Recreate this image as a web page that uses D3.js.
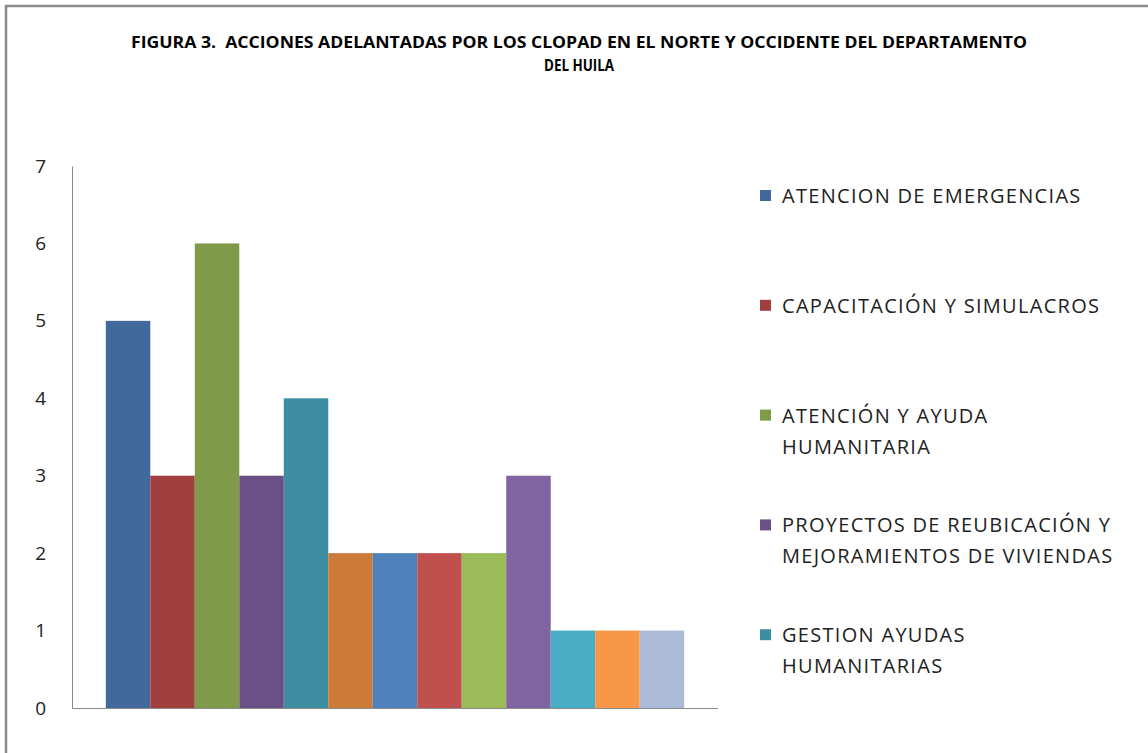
<!DOCTYPE html>
<html>
<head>
    <meta charset="utf-8">
    <title>Figura 3</title>
    <script src="https://d3js.org/d3.v7.min.js"></script>
    <style>
        html, body {
            margin: 0;
            background: #fff;
            overflow: hidden;
        }
    </style>
</head>
<body>
    <svg id="svg"></svg>
    <script>
        // values per bar, left to right
        const values = [5, 3, 6, 3, 4, 2, 2, 2, 2, 3, 1, 1, 1];
        const barColors = ["#41699b", "#a0403e", "#7f9b49", "#6a5085", "#3d8ea3", "#cb7a38",
            "#4f81bd", "#c0504d", "#9bbb59", "#8064a2", "#4bacc6", "#f79646", "#aabad7"];
        const legendLabels = [
            ["ATENCION DE EMERGENCIAS"],
            ["CAPACITACIÓN Y SIMULACROS"],
            ["ATENCIÓN Y AYUDA", "HUMANITARIA"],
            ["PROYECTOS DE REUBICACIÓN Y", "MEJORAMIENTOS DE VIVIENDAS"],
            ["GESTION AYUDAS", "HUMANITARIAS"]
        ];
        const yTicks = [0, 1, 2, 3, 4, 5, 6, 7];
        const titleLines = [
            "FIGURA 3.  ACCIONES ADELANTADAS POR LOS CLOPAD EN EL NORTE Y OCCIDENTE DEL DEPARTAMENTO",
            "DEL HUILA"
        ];

        const width = 1148, height = 753;
        const plot = { left: 72, right: 718, top: 166, bottom: 708 };

        const svg = d3.select("#svg")
            .attr("width", width)
            .attr("height", height)
            .style("font-family", "'Open Sans', sans-serif");

        // frame (top and left edges only)
        svg.append("path")
            .attr("d", `M6,${height} V6 H${width}`)
            .attr("fill", "none")
            .attr("stroke", "#8a8a8a")
            .attr("stroke-width", 2.5);

        // title
        svg.append("g").selectAll("text")
            .data(titleLines)
            .enter()
            .append("text")
            .attr("x", 579)
            .attr("y", (d, i) => 48 + i * 23)
            .attr("text-anchor", "middle")
            .attr("font-weight", "bold")
            .attr("font-size", 16)
            .attr("fill", "#000")
            .style("white-space", "pre")
            .attr("textLength", (d, i) => i === 0 ? 896 : 70)
            .attr("lengthAdjust", "spacingAndGlyphs")
            .text(d => d);

        const x = d3.scaleBand()
            .domain(d3.range(values.length))
            .range([plot.left, plot.right])
            .paddingInner(0)
            .paddingOuter(0.76);

        const y = d3.scaleLinear()
            .domain([0, 7])
            .range([plot.bottom, plot.top]);

        // bars
        svg.append("g").selectAll("rect")
            .data(values)
            .enter()
            .append("rect")
            .attr("x", (d, i) => x(i))
            .attr("y", d => y(d))
            .attr("width", x.bandwidth())
            .attr("height", d => y(0) - y(d))
            .attr("fill", (d, i) => barColors[i]);

        // y axis
        const yAxis = svg.append("g")
            .attr("transform", `translate(${plot.left},0)`)
            .call(d3.axisLeft(y).tickValues(yTicks).tickSize(0).tickPadding(26).tickFormat(d3.format("d")));
        yAxis.select(".domain").attr("stroke", "#8c8c8c");
        yAxis.selectAll("text")
            .attr("font-size", 19)
            .attr("font-family", "'Open Sans', sans-serif")
            .attr("fill", "#222");

        // x axis line
        svg.append("line")
            .attr("x1", plot.left)
            .attr("x2", plot.right)
            .attr("y1", y(0) + 0.5)
            .attr("y2", y(0) + 0.5)
            .attr("stroke", "#8c8c8c");

        // legend
        const legend = svg.append("g").attr("transform", "translate(760,0)");
        const items = legend.selectAll("g")
            .data(legendLabels)
            .enter()
            .append("g")
            .attr("transform", (d, i) => `translate(0,${196 + i * 109.8})`);
        items.append("rect")
            .attr("x", 0)
            .attr("y", -6)
            .attr("width", 11)
            .attr("height", 11)
            .attr("fill", (d, i) => barColors[i]);
        items.selectAll("text")
            .data(d => d)
            .enter()
            .append("text")
            .attr("x", 22)
            .attr("y", (d, i) => i * 31)
            .attr("dy", "0.35em")
            .attr("font-size", 20)
            .attr("letter-spacing", 1.3)
            .attr("fill", "#222")
            .text(d => d);
    </script>
</body>
</html>
